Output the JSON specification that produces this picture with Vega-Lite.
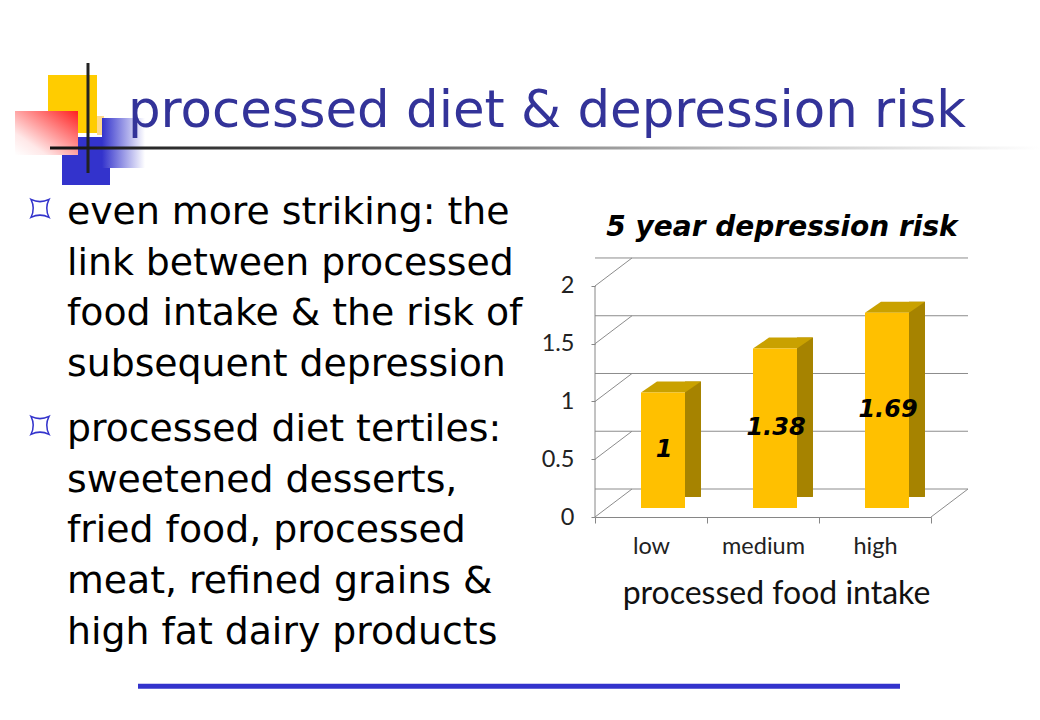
{
  "$schema": "https://vega.github.io/schema/vega-lite/v6.json",
  "usermeta": {"embedOptions": {"actions": false}},
  "background": "white",
  "padding": 0,
  "bounds": "full",
  "spacing": 0,
  "config": {
    "view": {"stroke": null, "fill": "white"},
    "font": "DejaVu Sans"
  },
  "datasets": {
    "risk": [
      {"intake": "low", "risk": 1},
      {"intake": "medium", "risk": 1.38},
      {"intake": "high", "risk": 1.69}
    ],
    "grid": [
      {"tick": 0}, {"tick": 0.5}, {"tick": 1}, {"tick": 1.5}, {"tick": 2}
    ],
    "lines": [
      {"bullet": 1, "line": 1, "text": "even more striking: the"},
      {"bullet": 1, "line": 2, "text": "link between processed"},
      {"bullet": 1, "line": 3, "text": "food intake & the risk of"},
      {"bullet": 1, "line": 4, "text": "subsequent depression"},
      {"bullet": 2, "line": 1, "text": "processed diet tertiles:"},
      {"bullet": 2, "line": 2, "text": "sweetened desserts,"},
      {"bullet": 2, "line": 3, "text": "fried food, processed"},
      {"bullet": 2, "line": 4, "text": "meat, refined grains &"},
      {"bullet": 2, "line": 5, "text": "high fat dairy products"}
    ]
  },
  "vconcat": [
    {
      "width": 1040,
      "height": 192.7,
      "data": {"values": [{}]},
      "layer": [
        {
          "mark": {"type": "rect", "color": "#FFCC00", "strokeWidth": 0},
          "encoding": {
            "x": {"datum": 48, "type": "quantitative", "scale": {"domain": [0, 1040], "nice": false, "zero": false}, "axis": null},
            "x2": {"datum": 97},
            "y": {"datum": 75, "type": "quantitative", "scale": {"domain": [0, 192.7], "nice": false, "zero": false, "reverse": true}, "axis": null},
            "y2": {"datum": 133}
          }
        },
        {
          "mark": {"type": "rect", "color": "#FFD98A", "strokeWidth": 0},
          "encoding": {
            "x": {"datum": 97, "type": "quantitative", "axis": null},
            "x2": {"datum": 104},
            "y": {"datum": 116, "type": "quantitative", "axis": null},
            "y2": {"datum": 135}
          }
        },
        {
          "mark": {"type": "rect", "color": "#3333CC", "strokeWidth": 0},
          "encoding": {
            "x": {"datum": 62, "type": "quantitative", "axis": null},
            "x2": {"datum": 110},
            "y": {"datum": 137, "type": "quantitative", "axis": null},
            "y2": {"datum": 185}
          }
        },
        {
          "mark": {"type": "rect", "strokeWidth": 0, "color": {"gradient": "linear", "x1": 0, "y1": 0, "x2": 1, "y2": 0, "stops": [{"offset": 0, "color": "#3333CC"}, {"offset": 1, "color": "#ffffff"}]}},
          "encoding": {
            "x": {"datum": 102, "type": "quantitative", "axis": null},
            "x2": {"datum": 145},
            "y": {"datum": 118, "type": "quantitative", "axis": null},
            "y2": {"datum": 168}
          }
        },
        {
          "mark": {"type": "rect", "strokeWidth": 0, "color": {"gradient": "linear", "x1": 1, "y1": 0, "x2": 0, "y2": 1, "stops": [{"offset": 0, "color": "#FF2020"}, {"offset": 0.75, "color": "#ffe8e8"}, {"offset": 1, "color": "#ffffff"}]}},
          "encoding": {
            "x": {"datum": 15, "type": "quantitative", "axis": null},
            "x2": {"datum": 78},
            "y": {"datum": 111, "type": "quantitative", "axis": null},
            "y2": {"datum": 155}
          }
        },
        {
          "mark": {"type": "rule", "color": "#222222", "strokeWidth": 3},
          "encoding": {
            "x": {"datum": 88, "type": "quantitative", "axis": null},
            "y": {"datum": 63, "type": "quantitative", "axis": null},
            "y2": {"datum": 173}
          }
        },
        {
          "mark": {"type": "rect", "strokeWidth": 0, "color": {"gradient": "linear", "x1": 0, "y1": 0, "x2": 1, "y2": 0, "stops": [{"offset": 0, "color": "#111111"}, {"offset": 0.3, "color": "#555555"}, {"offset": 0.7, "color": "#c0c0c0"}, {"offset": 1, "color": "#ffffff"}]}},
          "encoding": {
            "x": {"datum": 50, "type": "quantitative", "axis": null},
            "x2": {"datum": 1040},
            "y": {"datum": 146.5, "type": "quantitative", "axis": null},
            "y2": {"datum": 149.5}
          }
        },
        {
          "mark": {"type": "text", "align": "left", "baseline": "alphabetic", "font": "DejaVu Sans", "fontSize": 51.4, "color": "#333399"},
          "encoding": {
            "x": {"datum": 128, "type": "quantitative", "axis": null},
            "y": {"datum": 127, "type": "quantitative", "axis": null},
            "text": {"value": "processed diet & depression risk"}
          }
        }
      ]
    },
    {
      "bounds": "full",
      "spacing": 18,
      "hconcat": [
        {
          "bounds": "flush",
          "spacing": 14,
          "vconcat": [
            {
              "width": 136,
              "height": 203,
              "data": {"name": "lines"},
              "transform": [{"filter": "datum.bullet === 1"}],
              "layer": [
                {
                  "mark": {"type": "text", "align": "left", "baseline": "alphabetic", "dy": 2.6, "dx": -1, "font": "DejaVu Sans", "fontSize": 37.8, "color": "#000000"},
                  "encoding": {
                    "y": {"field": "line", "type": "ordinal", "axis": null, "scale": {"type": "point", "padding": 0.5}},
                    "text": {"field": "text"}
                  }
                },
                {
                  "transform": [{"filter": "datum.line === 1"}],
                  "mark": {"type": "point", "shape": "M-1,-1Q0,-0.5 1,-1Q0.5,0 1,1Q0,0.5 -1,1Q-0.5,0 -1,-1Z", "size": 324, "filled": false, "stroke": "#3333CC", "strokeWidth": 1.5, "opacity": 1, "xOffset": -28, "yOffset": -13},
                  "encoding": {
                    "y": {"field": "line", "type": "ordinal", "axis": null}
                  }
                }
              ]
            },
            {
              "width": 136,
              "height": 253.75,
              "data": {"name": "lines"},
              "transform": [{"filter": "datum.bullet === 2"}],
              "layer": [
                {
                  "mark": {"type": "text", "align": "left", "baseline": "alphabetic", "dy": 2.6, "dx": -1, "font": "DejaVu Sans", "fontSize": 37.8, "color": "#000000"},
                  "encoding": {
                    "y": {"field": "line", "type": "ordinal", "axis": null, "scale": {"type": "point", "padding": 0.5}},
                    "text": {"field": "text"}
                  }
                },
                {
                  "transform": [{"filter": "datum.line === 1"}],
                  "mark": {"type": "point", "shape": "M-1,-1Q0,-0.5 1,-1Q0.5,0 1,1Q0,0.5 -1,1Q-0.5,0 -1,-1Z", "size": 324, "filled": false, "stroke": "#3333CC", "strokeWidth": 1.5, "opacity": 1, "xOffset": -28, "yOffset": -13},
                  "encoding": {
                    "y": {"field": "line", "type": "ordinal", "axis": null}
                  }
                }
              ]
            }
          ]
        },
        {
          "width": 336,
          "height": 321,
          "title": {"text": "5 year depression risk", "font": "DejaVu Sans", "fontSize": 28, "fontWeight": "bold", "fontStyle": "italic", "color": "#000000", "anchor": "middle", "frame": "group", "baseline": "alphabetic", "offset": -68, "dx": 19},
          "resolve": {"scale": {"x": "independent", "y": "independent"}},
          "layer": [
            {
              "layer": [
                {
                  "data": {"name": "grid"},
                  "mark": {"type": "rule", "color": "#8c8c8c", "strokeWidth": 1, "xOffset": 37, "x2Offset": 37, "yOffset": -28},
                  "encoding": {
                    "y": {"field": "tick", "type": "quantitative", "scale": {"domain": [0, 2.779], "nice": false, "zero": true},
                      "axis": {"values": [0, 0.5, 1, 1.5, 2], "format": "~g", "domain": false, "grid": false, "tickSize": 4, "tickColor": "#868686", "labelPadding": 17, "labelFont": "Lato", "labelFontSize": 23.5, "labelColor": "#222222", "title": null}}
                  }
                },
                {
                  "data": {"name": "risk"},
                  "mark": {"type": "bar", "color": "#A68300", "width": 16, "xOffset": 42, "yOffset": -20, "y2Offset": -9},
                  "encoding": {
                    "x": {"field": "intake", "type": "nominal", "sort": ["low", "medium", "high"], "scale": {"paddingInner": 0, "paddingOuter": 0},
                      "axis": {"title": "processed food intake", "tickBand": "extent", "labelAngle": 0, "domainColor": "#868686", "tickColor": "#868686", "tickSize": 6, "labelFont": "Lato", "labelFontSize": 23.5, "labelColor": "#222222", "labelBaseline": "alphabetic", "labelPadding": 30, "titleFont": "Lato", "titleFontSize": 32, "titleFontWeight": "normal", "titleColor": "#111111", "titleBaseline": "alphabetic", "titleX": 181, "titleY": 86}},
                    "y": {"field": "risk", "type": "quantitative"}
                  }
                },
                {
                  "data": {"name": "risk"},
                  "mark": {"type": "point", "shape": "M34,-9L51,-9L51,-21Z", "size": 4, "filled": true, "color": "#ffffff", "opacity": 1, "strokeWidth": 0},
                  "encoding": {
                    "x": {"field": "intake", "type": "nominal", "sort": ["low", "medium", "high"]},
                    "y": {"datum": 0, "type": "quantitative"}
                  }
                },
                {
                  "data": {"name": "risk"},
                  "mark": {"type": "point", "shape": "M-10,-9L34,-9L50,-20L6,-20Z", "size": 4, "filled": true, "color": "#C9A100", "opacity": 1, "strokeWidth": 0},
                  "encoding": {
                    "x": {"field": "intake", "type": "nominal", "sort": ["low", "medium", "high"]},
                    "y": {"field": "risk", "type": "quantitative"}
                  }
                },
                {
                  "data": {"name": "risk"},
                  "mark": {"type": "bar", "color": "#FFC000", "width": 44, "xOffset": 12, "yOffset": -9, "y2Offset": -9},
                  "encoding": {
                    "x": {"field": "intake", "type": "nominal", "sort": ["low", "medium", "high"]},
                    "y": {"field": "risk", "type": "quantitative"}
                  }
                }
              ]
            },
            {
              "data": {"name": "grid"},
              "layer": [
                {
                  "mark": {"type": "rule", "color": "#8c8c8c", "strokeWidth": 1, "x2Offset": 37, "y2Offset": -28},
                  "encoding": {
                    "x": {"datum": 0, "type": "quantitative", "scale": {"domain": [0, 1], "nice": false, "zero": false}, "axis": null},
                    "x2": {"datum": 0},
                    "y": {"field": "tick", "type": "quantitative", "scale": {"domain": [0, 2.779], "nice": false, "zero": true}, "axis": null},
                    "y2": {"field": "tick"}
                  }
                },
                {
                  "transform": [{"filter": "datum.tick === 0"}],
                  "mark": {"type": "rule", "color": "#8c8c8c", "strokeWidth": 1, "x2Offset": 37, "y2Offset": -28},
                  "encoding": {
                    "x": {"datum": 1, "type": "quantitative", "axis": null},
                    "x2": {"datum": 1},
                    "y": {"field": "tick", "type": "quantitative", "axis": null},
                    "y2": {"field": "tick"}
                  }
                },
                {
                  "mark": {"type": "rule", "color": "#868686", "strokeWidth": 1},
                  "encoding": {
                    "x": {"datum": 0, "type": "quantitative", "axis": null},
                    "y": {"aggregate": "min", "field": "tick", "type": "quantitative", "axis": null},
                    "y2": {"aggregate": "max", "field": "tick"}
                  }
                }
              ]
            },
            {
              "data": {"name": "risk"},
              "mark": {"type": "text", "font": "DejaVu Sans", "fontSize": 24, "fontWeight": "bold", "fontStyle": "italic", "color": "#000000", "baseline": "middle", "align": "center", "xOffset": 13, "yOffset": -9},
              "encoding": {
                "x": {"field": "intake", "type": "nominal", "sort": ["low", "medium", "high"], "scale": {"paddingInner": 0, "paddingOuter": 0}, "axis": null},
                "y": {"field": "risk", "type": "quantitative", "scale": {"domain": [0, 5.558], "nice": false, "zero": true}, "axis": null},
                "text": {"field": "risk", "type": "quantitative"}
              }
            }
          ]
        }
      ]
    },
    {
      "width": 900,
      "height": 19.25,
      "data": {"values": [{}]},
      "mark": {"type": "rule", "color": "#3333CC", "strokeWidth": 5},
      "encoding": {
        "x": {"datum": 138, "type": "quantitative", "scale": {"domain": [0, 900], "nice": false, "zero": false}, "axis": null},
        "x2": {"datum": 900},
        "y": {"datum": 0, "type": "quantitative", "scale": {"domain": [0, 1], "nice": false}, "axis": null}
      }
    }
  ]
}
